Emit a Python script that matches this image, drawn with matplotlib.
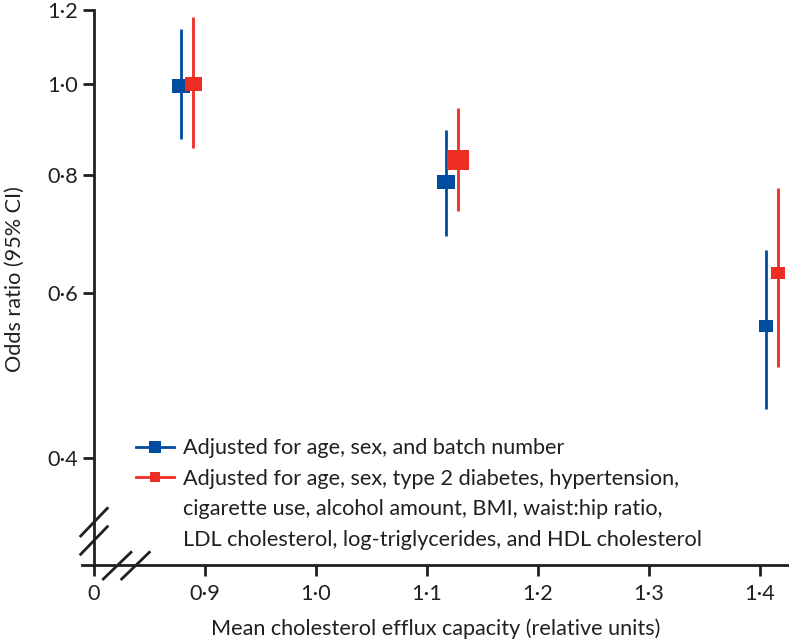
import numpy as np
import matplotlib.pyplot as plt
from matplotlib.lines import Line2D

plt.rcParams['font.family'] = ['Lato', 'DejaVu Sans']

# --- DATA ---
efflux_blue = [0.878, 1.117, 1.405]
efflux_red = [0.889, 1.128, 1.416]

or_blue = [0.997, 0.787, 0.553]
lo_blue = [0.875, 0.689, 0.451]
hi_blue = [1.145, 0.895, 0.666]

or_red = [1.000, 0.830, 0.630]
lo_red = [0.855, 0.734, 0.500]
hi_red = [1.181, 0.943, 0.775]

x_ticks = [0.8, 0.9, 1.0, 1.1, 1.2, 1.3, 1.4]
x_tick_labels = ['0', '0·9', '1·0', '1·1', '1·2', '1·3', '1·4']
y_ticks = [0.4, 0.6, 0.8, 1.0, 1.2]
y_tick_labels = ['0·4', '0·6', '0·8', '1·0', '1·2']

legend_blue = 'Adjusted for age, sex, and batch number'
legend_red = ['Adjusted for age, sex, type 2 diabetes, hypertension,',
              'cigarette use, alcohol amount, BMI, waist:hip ratio,',
              'LDL cholesterol, log-triglycerides, and HDL cholesterol']

# --- STYLE ---
BLUE = '#004C9E'
RED = '#EE2D24'
INK = '#231F20'
FS = 15.6
W, H = 789, 644
# box width / height of each marker in pixels
box_blue = [(17.7, 13.3), (18.0, 14.7), (14.0, 11.7)]
box_red = [(17.0, 13.3), (21.7, 20.0), (14.0, 11.3)]


def rect_marker(w, h):
    r = h / w
    return [(-1, -r), (1, -r), (1, r), (-1, r), (-1, -r)]


fig = plt.figure(figsize=(W / 100, H / 100), dpi=100)
ax = fig.add_axes([82 / W, (H - 565) / H, (W - 82) / W, (565 - 10) / H])

ax.set_yscale('log')
ax.set_xlim(0.7892, 1.4261)
ax.set_ylim(0.308, 1.2)

# confidence intervals
ax.vlines(efflux_blue, lo_blue, hi_blue, color=BLUE, lw=2, zorder=2)
ax.vlines(efflux_red, lo_red, hi_red, color=RED, lw=2, zorder=3)

# point estimates
for x, y, (bw, bh) in zip(efflux_blue, or_blue, box_blue):
    ax.plot([x], [y], linestyle='none', marker=rect_marker(bw, bh),
            ms=bw * 0.72, color=BLUE, mew=0, zorder=4)
for x, y, (bw, bh) in zip(efflux_red, or_red, box_red):
    ax.plot([x], [y], linestyle='none', marker=rect_marker(bw, bh),
            ms=bw * 0.72, color=RED, mew=0, zorder=5)

# axes
for s in ['top', 'right']:
    ax.spines[s].set_visible(False)
ax.spines['left'].set_position(('data', 0.8))
ax.spines['left'].set_bounds(0.308, 1.2)
for s in ['left', 'bottom']:
    ax.spines[s].set_linewidth(2)
    ax.spines[s].set_color(INK)

ax.set_xticks(x_ticks)
ax.set_xticklabels(x_tick_labels)
ax.set_yticks(y_ticks)
ax.set_yticklabels(y_tick_labels)
ax.minorticks_off()
ax.tick_params(direction='out', length=8, width=2, color=INK,
               labelcolor=INK, labelsize=FS)
ax.tick_params(axis='x', pad=6)
ax.tick_params(axis='y', pad=3.5)

ax.set_xlabel('Mean cholesterol efflux capacity (relative units)',
              fontsize=FS, color=INK, labelpad=10)
ax.set_ylabel('Odds ratio (95% CI)', fontsize=FS, color=INK)
ax.yaxis.set_label_coords(25 / W, (H - 279) / H, transform=fig.transFigure)

# axis break marks
breaks = [((80.7, 536), (107.3, 508.3)), ((80.7, 554.3), (107.3, 526.7)),
          ((103.3, 579), (131, 552.3)), ((121.7, 579), (149.3, 552.3))]
for (x0, y0), (x1, y1) in breaks:
    fig.add_artist(Line2D([x0 / W, x1 / W], [1 - y0 / H, 1 - y1 / H],
                          transform=fig.transFigure, color=INK, lw=2))

# legend
blank = Line2D([], [], linestyle='none', marker='none')
handles = [Line2D([], [], color=BLUE, lw=2, marker='s', ms=8.5, mew=0),
           Line2D([], [], color=RED, lw=2, marker='s', ms=7.5, mew=0),
           blank, blank]
labels = [legend_blue] + legend_red
ax.legend(handles, labels, loc='upper left', frameon=False,
          bbox_to_anchor=(135.7 / W, 1 - 438.5 / H), bbox_transform=fig.transFigure,
          borderpad=0, borderaxespad=0, handlelength=1.77, handletextpad=0.4,
          labelspacing=0.48, fontsize=FS, labelcolor=INK)

fig.savefig('out.png', dpi=100)
